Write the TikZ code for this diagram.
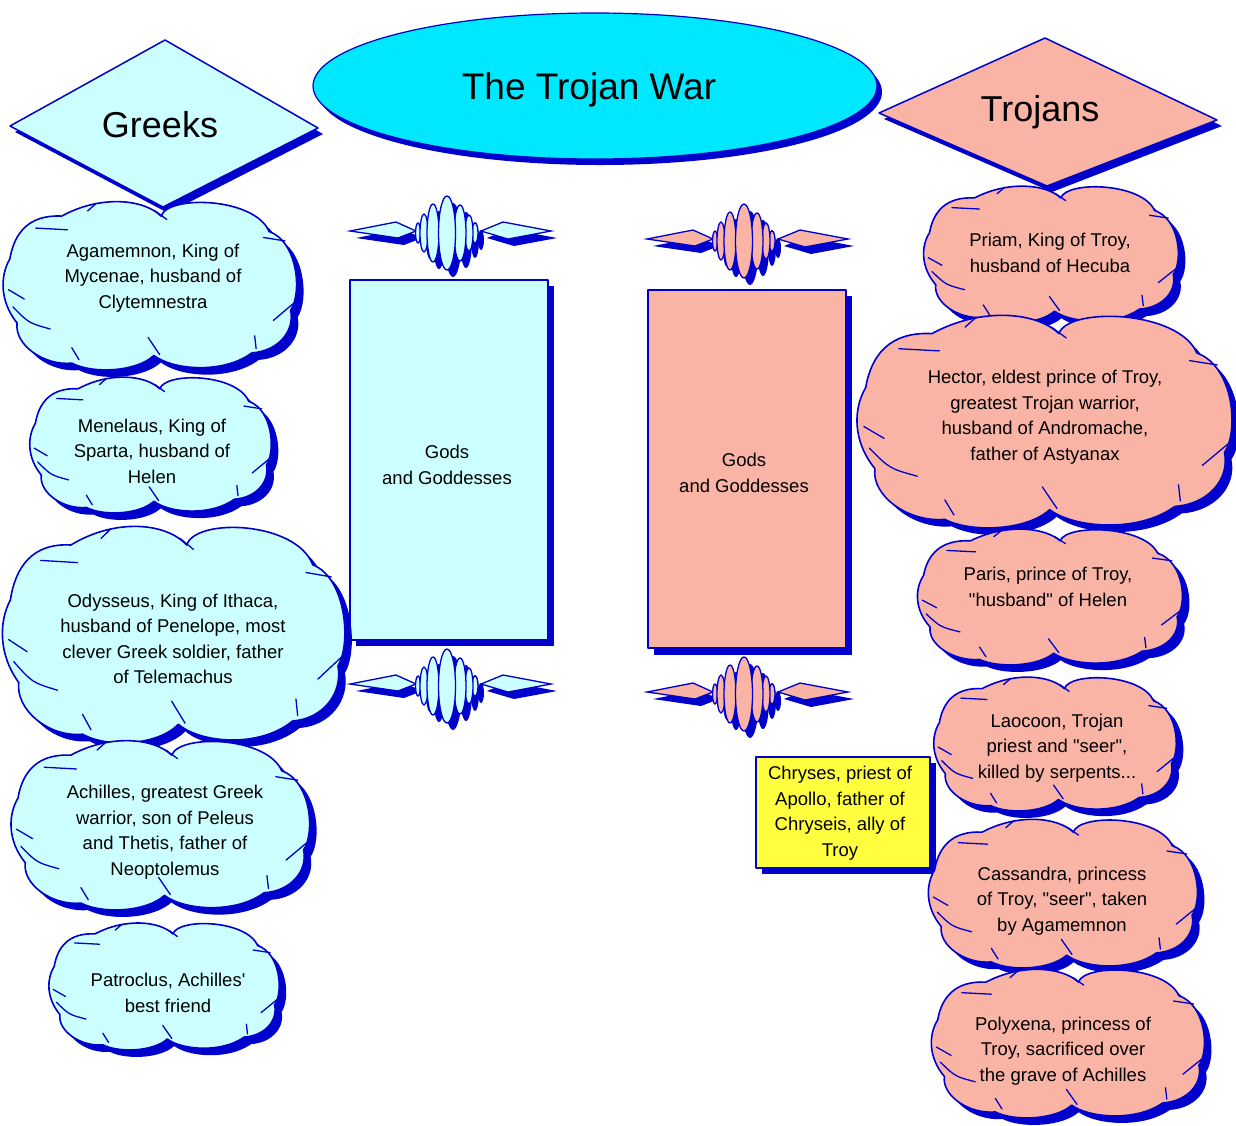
\documentclass[tikz,border=0pt]{standalone}
\usepackage{fontspec}
\setmainfont{Liberation Sans}[Ligatures=TeXOff]
\definecolor{bl}{HTML}{0000CC}
\definecolor{lc}{HTML}{CCFFFF}
\definecolor{cy}{HTML}{00E8FF}
\definecolor{sal}{HTML}{FAB4A5}
\definecolor{yel}{HTML}{FFFF40}
\tikzset{
  txt/.style={align=center, font=\fontsize{18.5}{25.5}\selectfont, inner sep=0pt},
  bigtxt/.style={font=\fontsize{36}{40}\selectfont, inner sep=0pt},
  edge/.style={draw=bl, line width=1.5pt, line join=round},
}
\def\cloudpath{(0.07,-0.80) .. controls (0.12,-1.05) and (0.72,-1.02) .. (0.82,-0.62)
 .. controls (1.02,-0.5) and (1.05,0.1) .. (0.97,0.30)
 .. controls (1.0,0.55) and (0.88,0.78) .. (0.70,0.80)
 .. controls (0.5,1.05) and (0.15,1.0) .. (0.02,0.83)
 .. controls (-0.1,1.02) and (-0.4,1.05) .. (-0.55,0.92)
 .. controls (-0.75,0.95) and (-0.95,0.7) .. (-0.93,0.45)
 .. controls (-1.05,0.2) and (-1.05,-0.1) .. (-0.98,-0.30)
 .. controls (-0.95,-0.6) and (-0.85,-0.82) .. (-0.62,-0.80)
 .. controls (-0.35,-1.05) and (-0.05,-1.0) .. (0.07,-0.80) -- cycle}
\def\cloudticks{(-0.80,-0.66) -- (-0.58,-0.64) (-0.38,-0.95) -- (-0.44,-0.86)
 (0.03,-0.86) -- (0.11,-0.76) (0.78,-0.55) -- (0.93,-0.51)
 (0.85,0.42) -- (0.99,0.22) (0.72,0.60) -- (0.73,0.75)
 (-0.02,0.62) -- (0.06,0.82) (-0.55,0.74) -- (-0.50,0.88)
 (-0.88,0.17) -- (-0.99,0.06) (-0.70,0.52) .. controls (-0.85,0.45) .. (-0.96,0.26)}
\newcommand\cloudsh[5]{%
  \fill[bl, shift={(#1+7,#2+7)}, xscale=#3, yscale=#4] \cloudpath;
  \begin{scope}[shift={(#1,#2)}, xscale=#3, yscale=#4]
    \fill[#5] \cloudpath;
    \draw[bl, line width=1.6pt, line join=round] \cloudpath;
    \draw[bl, line width=1.3pt, line cap=round] \cloudticks;
  \end{scope}}
\newcommand\scrollparts[1]{%
  \path[#1] (-97,-2) -- (-51,-11) -- (-31,-2) -- (-49,5) -- cycle;
  \path[#1] (34,-2) -- (56,-11) -- (104,-2) -- (61,6) -- cycle;
  \path[#1] (-29,0) ellipse [x radius=2.5, y radius=10];
  \path[#1] (28,0) ellipse [x radius=3, y radius=10];
  \path[#1] (-23,0) ellipse [x radius=4, y radius=19];
  \path[#1] (22,0) ellipse [x radius=4, y radius=18];
  \path[#1] (-14,0) ellipse [x radius=6, y radius=29];
  \path[#1] (13,0) ellipse [x radius=6, y radius=28];
  \path[#1] (0,0) ellipse [x radius=8.5, y radius=37];}
\newcommand\scrollsh[3]{%
  \begin{scope}[shift={(#1+6,#2+7)}]\scrollparts{fill=bl}\end{scope}
  \begin{scope}[shift={(#1,#2)}]\scrollparts{fill=#3, draw=bl, line width=1.3pt}\end{scope}}
\begin{document}
\begin{tikzpicture}[x=1pt, y=-1pt]
\useasboundingbox (0,0) rectangle (1236,1125);
% title ellipse
\fill[bl] (600,92) ellipse [x radius=282, y radius=73];
\filldraw[fill=cy, draw=bl, line width=1.2pt] (595,86) ellipse [x radius=282, y radius=73];
\node[font=\fontsize{37}{40}\selectfont, inner sep=0pt] (title) at (589,90) {The Trojan War};
% diamonds
\fill[bl] (170,46) -- (323,134) -- (168,213) -- (15,132) -- cycle;
\filldraw[fill=lc, edge] (165,40) -- (318,128) -- (163,207) -- (10,126) -- cycle;
\node[bigtxt] (greeks) at (160,125) {Greeks};
\fill[bl] (1050,44) -- (1222,126) -- (1052,192) -- (884,119) -- cycle;
\filldraw[fill=sal, edge] (1045,38) -- (1217,120) -- (1047,186) -- (879,113) -- cycle;
\node[bigtxt] (trojans) at (1040,112) {Trojans};
% gods rectangles
\fill[bl] (356,286) rectangle (554,646);
\filldraw[fill=lc, edge] (350,280) rectangle (548,640);
\node[txt] (godsL) at (447,465) {Gods\\and Goddesses};
\fill[bl] (654,296) rectangle (852,655);
\filldraw[fill=sal, edge] (648,290) rectangle (846,648);
\node[txt] (godsR) at (744,473) {Gods\\and Goddesses};
% scroll ornaments
\scrollsh{447}{233}{lc}
\scrollsh{447}{686}{lc}
\scrollsh{744}{241}{sal}
\scrollsh{744}{694}{sal}
% Chryses
\fill[bl] (762,763) rectangle (936,874);
\filldraw[fill=yel, edge] (756,757) rectangle (930,868);
\node[txt] (chryses) at (840,813) {Chryses, priest of\\Apollo, father of\\Chryseis, ally of\\Troy};
% Greek clouds
\cloudsh{151}{284.5}{144}{85.5}{lc}
\node[txt] (agamemnon) at (153,278) {Agamemnon, King of\\Mycenae, husband of\\Clytemnestra};
\cloudsh{151.5}{444}{118.5}{69}{lc}
\node[txt] (menelaus) at (152,451) {Menelaus, King of\\Sparta, husband of\\Helen};
\cloudsh{175}{633}{168}{110}{lc}
\node[txt] (odysseus) at (173,639) {Odysseus, King of Ithaca,\\husband of Penelope, most\\clever Greek soldier, father\\of Telemachus};
\cloudsh{161.5}{824}{146.5}{86}{lc}
\node[txt] (achilles) at (165,832) {Achilles, greatest Greek\\warrior, son of Peleus\\and Thetis, father of\\Neoptolemus};
\cloudsh{165}{985.5}{113}{64.5}{lc}
\node[txt] (patroclus) at (168,993) {Patroclus, Achilles'\\best friend};
% Trojan clouds
\cloudsh{1052}{253.5}{125}{69.5}{sal}
\node[txt] (priam) at (1050,253) {Priam, King of Troy,\\husband of Hecuba};
\cloudsh{1046}{420}{184}{108}{sal}
\node[txt] (hector) at (1045,417) {Hector, eldest prince of Troy,\\greatest Trojan warrior,\\husband of Andromache,\\father of Astyanax};
\cloudsh{1051}{596}{130}{69}{sal}
\node[txt] (paris) at (1048,587) {Paris, prince of Troy,\\"husband" of Helen};
\cloudsh{1056}{743}{119}{68}{sal}
\node[txt] (laocoon) at (1057,748) {Laocoon, Trojan\\priest and "seer",\\killed by serpents...};
\cloudsh{1064}{892.5}{132}{75.5}{sal}
\node[txt] (cassandra) at (1062,901) {Cassandra, princess\\of Troy, "seer", taken\\by Agamemnon};
\cloudsh{1069}{1042.5}{134}{75.5}{sal}
\node[txt] (polyxena) at (1063,1051) {Polyxena, princess of\\Troy, sacrificed over\\the grave of Achilles};
\end{tikzpicture}
\end{document}
